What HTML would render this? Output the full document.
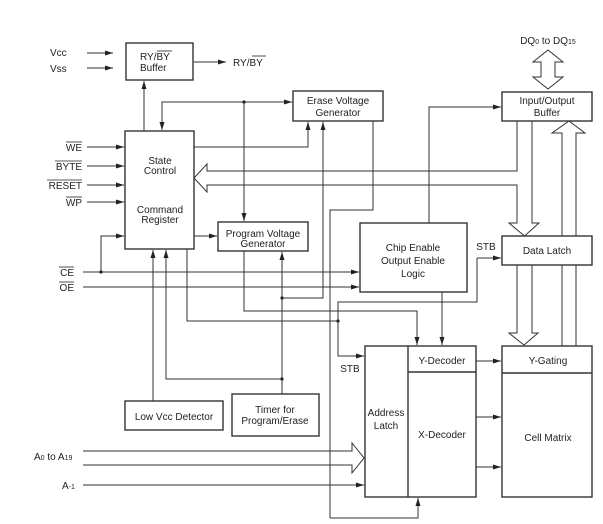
<!DOCTYPE html>
<html><head><meta charset="utf-8"><style>
html,body{margin:0;padding:0;background:#fff;}
svg{display:block;}
text{font-family:"Liberation Sans",Arial,sans-serif;font-size:10px;fill:#222;}
</style></head><body>
<svg width="603" height="524" viewBox="0 0 603 524" xmlns="http://www.w3.org/2000/svg">
<defs>
<marker id="a" markerWidth="8" markerHeight="6" refX="8" refY="3" orient="auto" markerUnits="userSpaceOnUse">
<path d="M0,0.5 L8,3 L0,5.5 Z" fill="#222"/></marker>
</defs>
<g stroke="#333" stroke-width="1.4" fill="none">
<rect x="126" y="43" width="67" height="37"/>
<rect x="125" y="131" width="69" height="118"/>
<rect x="293" y="91" width="90" height="30"/>
<rect x="218" y="222" width="90" height="29"/>
<rect x="360" y="223" width="107" height="69"/>
<rect x="502" y="92" width="90" height="29"/>
<rect x="502" y="236" width="90" height="29"/>
<rect x="125" y="401" width="98" height="29"/>
<rect x="232" y="394" width="87" height="42"/>
<rect x="365" y="346" width="111" height="151"/>
<line x1="408" y1="346" x2="408" y2="497"/>
<line x1="408" y1="372" x2="476" y2="372"/>
<rect x="502" y="346" width="90" height="151"/>
<line x1="502" y1="373" x2="592" y2="373"/>
</g>
<g stroke="#333" stroke-width="1" fill="none">
<line x1="87" y1="53" x2="113" y2="53" marker-end="url(#a)"/>
<line x1="87" y1="68" x2="113" y2="68" marker-end="url(#a)"/>
<line x1="194" y1="62" x2="226" y2="62" marker-end="url(#a)"/>
<line x1="144" y1="131" x2="144" y2="81" marker-end="url(#a)"/>
<polyline points="244,102 162,102 162,130" marker-end="url(#a)"/>
<line x1="244" y1="102" x2="292" y2="102" marker-end="url(#a)"/>
<line x1="244" y1="102" x2="244" y2="221" marker-end="url(#a)"/>
<polyline points="194,147 308,147 308,122" marker-end="url(#a)"/>
<polyline points="282,298 323,298 323,122" marker-end="url(#a)"/>
<polyline points="330,518 330,210 373,210 373,121"/>
<polyline points="330,518 418,518 418,498" marker-end="url(#a)"/>
<line x1="87" y1="147" x2="124" y2="147" marker-end="url(#a)"/>
<line x1="87" y1="166" x2="124" y2="166" marker-end="url(#a)"/>
<line x1="87" y1="185" x2="124" y2="185" marker-end="url(#a)"/>
<line x1="87" y1="202" x2="124" y2="202" marker-end="url(#a)"/>
<line x1="83" y1="272" x2="359" y2="272" marker-end="url(#a)"/>
<line x1="83" y1="287" x2="359" y2="287" marker-end="url(#a)"/>
<polyline points="101,272 101,236 124,236" marker-end="url(#a)"/>
<line x1="194" y1="236" x2="217" y2="236" marker-end="url(#a)"/>
<line x1="153" y1="401" x2="153" y2="250" marker-end="url(#a)"/>
<polyline points="282,379 166,379 166,250" marker-end="url(#a)"/>
<line x1="282" y1="394" x2="282" y2="252" marker-end="url(#a)"/>
<polyline points="187,249 187,321 338,321"/>
<polyline points="244,251 244,311 417,311 417,345" marker-end="url(#a)"/>
<polyline points="477,258 477,302 338,302 338,356 364,356" marker-end="url(#a)"/>
<line x1="477" y1="258" x2="501" y2="258" marker-end="url(#a)"/>
<polyline points="429,223 429,107 501,107" marker-end="url(#a)"/>
<line x1="442" y1="292" x2="442" y2="345" marker-end="url(#a)"/>
<line x1="476" y1="361" x2="501" y2="361" marker-end="url(#a)"/>
<line x1="476" y1="417" x2="501" y2="417" marker-end="url(#a)"/>
<line x1="476" y1="467" x2="501" y2="467" marker-end="url(#a)"/>
<line x1="83" y1="485" x2="364" y2="485" marker-end="url(#a)"/>
<polyline points="517,121 517,171 207,171 207,164 194,178 207,192 207,185 517,185 517,223 509,223 524.5,236 539,223 532,223 532,121"/>
<polyline points="562,236 562,133 552,133 569,121 585,133 576,133 576,236"/>
<polyline points="517,265 517,333 509,333 524,345 538,333 532,333 532,265"/>
<line x1="562" y1="265" x2="562" y2="346"/>
<line x1="576" y1="265" x2="576" y2="346"/>
<polygon points="548,50 563,62 555,62 555,77 563,77 548,89 533,77 541,77 541,62 533,62"/>
<polyline points="83,451 352,451 352,443 364,458 352,473 352,465 83,465"/>
</g>
<g fill="#222">
<circle cx="244" cy="102" r="1.6"/><circle cx="101" cy="272" r="1.6"/>
<circle cx="282" cy="298" r="1.6"/><circle cx="282" cy="379" r="1.6"/>
<circle cx="338" cy="321" r="1.6"/>
</g>
<g>
<text x="50" y="56">Vcc</text><text x="50" y="72">Vss</text>
<text x="140" y="60">RY/BY</text>
<text x="140" y="71">Buffer</text>
<line x1="157" y1="51" x2="172" y2="51" stroke="#222" stroke-width="0.8"/>
<text x="233" y="66">RY/BY</text>
<line x1="252" y1="56" x2="266" y2="56" stroke="#222" stroke-width="0.8"/>
<text x="160" y="164" text-anchor="middle">State</text>
<text x="160" y="174" text-anchor="middle">Control</text>
<text x="160" y="213" text-anchor="middle">Command</text>
<text x="160" y="223" text-anchor="middle">Register</text>
<text x="338" y="104" text-anchor="middle">Erase Voltage</text>
<text x="338" y="116" text-anchor="middle">Generator</text>
<text x="263" y="237" text-anchor="middle">Program Voltage</text>
<text x="263" y="247" text-anchor="middle">Generator</text>
<text x="413" y="251" text-anchor="middle">Chip Enable</text>
<text x="413" y="264" text-anchor="middle">Output Enable</text>
<text x="413" y="277" text-anchor="middle">Logic</text>
<text x="547" y="104" text-anchor="middle">Input/Output</text>
<text x="547" y="116" text-anchor="middle">Buffer</text>
<text x="548" y="44" text-anchor="middle">DQ<tspan font-size="7">0</tspan> to DQ<tspan font-size="7">15</tspan></text>
<text x="547" y="254" text-anchor="middle">Data Latch</text>
<text x="486" y="250" text-anchor="middle">STB</text>
<text x="350" y="372" text-anchor="middle">STB</text>
<text x="174" y="420" text-anchor="middle">Low Vcc Detector</text>
<text x="275" y="413" text-anchor="middle">Timer for</text>
<text x="275" y="424" text-anchor="middle">Program/Erase</text>
<text x="386" y="416" text-anchor="middle">Address</text>
<text x="386" y="429" text-anchor="middle">Latch</text>
<text x="442" y="364" text-anchor="middle">Y-Decoder</text>
<text x="442" y="438" text-anchor="middle">X-Decoder</text>
<text x="548" y="364" text-anchor="middle">Y-Gating</text>
<text x="548" y="441" text-anchor="middle">Cell Matrix</text>
<text x="82" y="151" text-anchor="end">WE</text>
<text x="82" y="170" text-anchor="end">BYTE</text>
<text x="82" y="189" text-anchor="end">RESET</text>
<text x="82" y="206" text-anchor="end">WP</text>
<text x="74" y="276" text-anchor="end">CE</text>
<text x="74" y="291" text-anchor="end">OE</text>
<g stroke="#222" stroke-width="0.8">
<line x1="66" y1="142" x2="82" y2="142"/>
<line x1="55" y1="161" x2="82" y2="161"/>
<line x1="47" y1="180" x2="82" y2="180"/>
<line x1="66" y1="197" x2="82" y2="197"/>
<line x1="59" y1="267" x2="74" y2="267"/>
<line x1="59" y1="282" x2="74" y2="282"/>
</g>
<text x="34" y="460">A<tspan font-size="7">0</tspan> to A<tspan font-size="7">19</tspan></text>
<text x="62" y="489">A<tspan font-size="7">-1</tspan></text>
</g>
</svg>
</body></html>
